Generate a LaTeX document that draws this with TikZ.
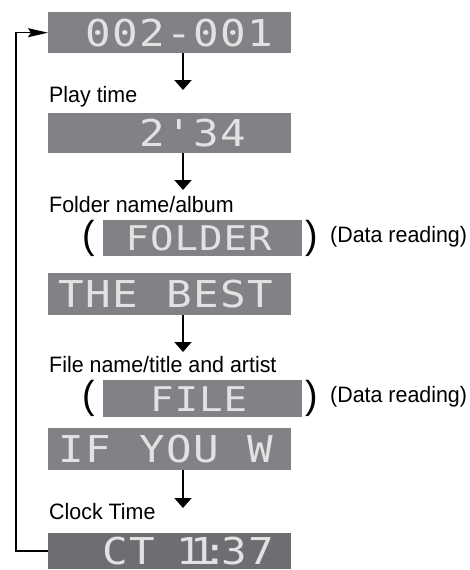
\documentclass[tikz,border=0pt]{standalone}
\usepackage{fontspec}
\usetikzlibrary{arrows.meta}
\usepackage{xcolor}
\newfontfamily\lblfont{Liberation Sans}[FakeStretch=0.96]
\newfontfamily\segfont{DejaVu Sans Mono}[FakeStretch=1.15]
\definecolor{dispgray}{HTML}{808285}
\definecolor{dispdark}{HTML}{6D6E71}
\definecolor{segwhite}{HTML}{E2E2E2}
% fixed cells for the display characters, ~ is a blank cell
\newcommand\segcells[2]{\def\segpitch{#1}\segloop#2\relax}
\def\segloop#1{\ifx#1\relax\else\makebox[\segpitch][c]{#1}\expandafter\segloop\fi}
\tikzset{
  >=Triangle,
  disp/.style={fill=dispgray,text=segwhite,inner sep=0,anchor=north west,minimum width=243pt,
    font=\segfont\fontsize{37}{37}\selectfont,execute at end node={\hspace*{8pt}}},
  disp small/.style={disp,minimum width=199pt,font=\segfont\fontsize{34}{34}\selectfont,
    execute at end node={}},
  lbl/.style={font=\lblfont\fontsize{22.3}{26}\selectfont,anchor=base west,inner sep=0},
  paren/.style={font=\lblfont\fontsize{39}{39}\selectfont,inner sep=0},
  flow/.style={line width=2pt,-{Triangle[width=17pt,length=10pt]}},
  back/.style={line width=1.5pt,-{Stealth[length=20pt,width=9pt,inset=3pt]}}
}
\begin{document}
\begin{tikzpicture}[x=1pt,y=-1pt]
  \useasboundingbox (0,0) rectangle (469,570);

  % --- DISPLAYS ---
  \node[disp,minimum height=41pt] (d1) at (48,12) {\segcells{27pt}{~002-001}};
  \node[disp,minimum height=40pt] (d2) at (48,113) {\segcells{27pt}{~~~2'34~}};
  \node[disp small,minimum height=36pt] (d3) at (103,220) {\segcells{24.5pt}{FOLDER}};
  \node[disp,minimum height=42pt] (d4) at (48,273) {\segcells{27pt}{THE~BEST}};
  \node[disp small,minimum height=37pt] (d5) at (103,380) {\segcells{24.5pt}{FILE}};
  \node[disp,minimum height=42pt] (d6) at (48,428) {\segcells{27pt}{IF~YOU~W}};
  \node[disp,fill=dispdark,minimum height=36pt] (d7) at (48,533)
    {\segcells{27pt}{~CT~}\segcells{14pt}{11}\segcells{10pt}{:}\segcells{27pt}{37}\hspace*{-18pt}};

  % --- LABELS ---
  \node[lbl] (l1) at (49,102) {Play time};
  \node[lbl] (l2) at (49,212) {Folder name/album};
  \node[lbl] (l3) at (49,372) {File name/title and artist};
  \node[lbl] (l4) at (49,519) {Clock Time};

  \node[paren] (p1) at (89,238) {(};
  \node[paren] (p2) at (312,238) {)};
  \node[lbl] (r1) at (330,242) {(Data reading)};
  \node[paren] (p3) at (89,398) {(};
  \node[paren] (p4) at (312,398) {)};
  \node[lbl] (r2) at (330,402) {(Data reading)};

  % --- ARROWS ---
  \coordinate (t1) at (183,90);
  \coordinate (t2) at (183,190);
  \coordinate (t3) at (183,352);
  \coordinate (t4) at (183,508);
  \draw[flow] (d1.south -| t1) -- (t1);
  \draw[flow] (d2.south -| t2) -- (t2);
  \draw[flow] (d4.south -| t3) -- (t3);
  \draw[flow] (d6.south -| t4) -- (t4);

  % back to the first display
  \draw[back] (d7.west) -- ++(-32,0) |- (d1.west);

\end{tikzpicture}
\end{document}
